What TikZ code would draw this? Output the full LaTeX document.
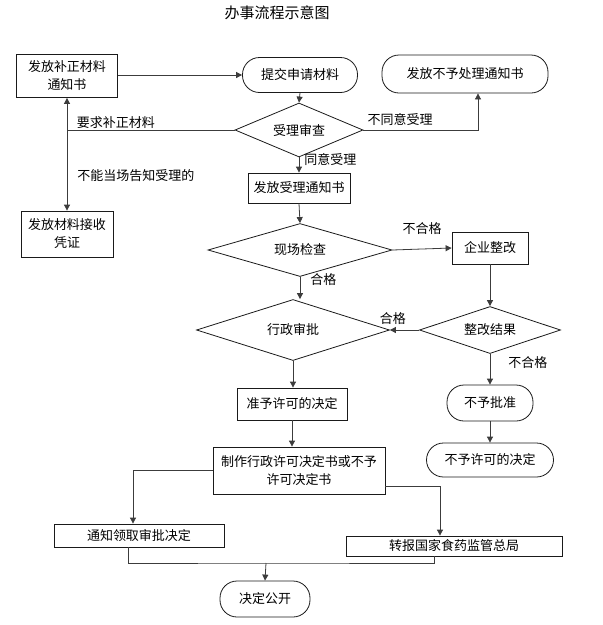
\documentclass[tikz,border=0pt]{standalone}
\usepackage{fontspec}
\setmainfont{Noto Sans CJK SC}
\usepackage{tikz}
\usetikzlibrary{shapes.geometric,arrows.meta,positioning}
\definecolor{flowdark}{HTML}{1A1A1A}
\definecolor{flowgray}{HTML}{3C3C3C}
\tikzset{
  flowbox/.style={
    draw=flowdark, fill=white, line width=0.8pt,
    align=center, inner sep=0pt, font=\fontsize{13}{18}\selectfont
  },
  flowterm/.style={flowbox, rounded corners=17pt},
  flowdec/.style={
    diamond, draw=flowdark, fill=white, line width=0.8pt,
    align=center, inner sep=0pt, font=\fontsize{13}{18}\selectfont
  },
  flowarr/.style={-{Triangle[length=6pt,width=6pt]}, draw=flowgray, line width=0.8pt},
  flowlink/.style={draw=flowgray, line width=0.8pt},
  flowlbl/.style={font=\fontsize{13}{16}\selectfont, inner sep=1pt}
}
\begin{document}
\begin{tikzpicture}[x=1pt, y=-1pt]
  \useasboundingbox[fill=white] (0,0) rectangle (603,625);

  \node[font=\fontsize{15}{18}\selectfont] (title) at (277,13) {办事流程示意图};

  %% ---- 受理 ----
  \node[flowbox, minimum width=101pt, minimum height=43pt] (bz) at (67,76) {发放补正材料\\通知书};
  \node[flowterm, minimum width=115pt, minimum height=35pt] (tj) at (300,75) {提交申请材料};
  \node[flowterm, minimum width=166pt, minimum height=38pt] (by) at (465,74) {发放不予处理通知书};
  \node[flowdec, minimum width=128pt, minimum height=54pt, aspect=2.4] (sl) at (299,130) {受理审查};
  \node[flowbox, minimum width=92pt, minimum height=46pt] (cl) at (67,234) {发放材料接收\\凭证};
  \node[flowbox, minimum width=102pt, minimum height=30pt] (sz) at (299,188) {发放受理通知书};

  %% ---- 检查 ----
  \node[flowdec, minimum width=184pt, minimum height=53pt, aspect=3.5] (xc) at (300,250) {现场检查};
  \node[flowbox, minimum width=76pt, minimum height=32pt] (qy) at (490,248) {企业整改};
  \node[flowdec, minimum width=141pt, minimum height=47pt, aspect=3] (zg) at (490,330) {整改结果};
  \node[flowdec, minimum width=193pt, minimum height=61pt, aspect=3.2] (xz) at (293,330) {行政审批};

  %% ---- 决定 ----
  \node[flowbox, minimum width=110pt, minimum height=32pt] (zy) at (292,404) {准予许可的决定};
  \node[flowbox, minimum width=172pt, minimum height=47pt] (zz) at (299,470.5) {制作行政许可决定书或不予\\许可决定书};
  \node[flowterm, minimum width=86pt, minimum height=36pt] (bp) at (490,403) {不予批准};
  \node[flowterm, minimum width=127pt, minimum height=34pt] (bx) at (490,460) {不予许可的决定};
  \node[flowbox, minimum width=170pt, minimum height=23pt] (tz) at (139,535.5) {通知领取审批决定};
  \node[flowbox, minimum width=216pt, minimum height=20pt] (zb) at (454,546) {转报国家食药监管总局};
  \node[flowterm, minimum width=90pt, minimum height=36pt] (jd) at (265,599) {决定公开};
  \coordinate (jn) at (266,563);

  %% Connectors
  \draw[flowarr] (tj.west -| bz.east) -- (tj.west);
  \draw[flowarr] (tj.south) -- (sl.north);
  \draw[flowarr] (sl.east) -| ([xshift=13pt]by.south)
    node[flowlbl, pos=0.16, above=3pt] {不同意受理};
  \draw[flowarr] (sl.west) -| (bz.south)
    node[flowlbl, pos=0.354, above] {要求补正材料};
  \draw[flowarr] (sl.west -| bz.south) -- (cl.north)
    node[flowlbl, pos=0.57, right=9pt] {不能当场告知受理的};
  \draw[flowarr] (sl.south) -- (sz.north)
    node[flowlbl, pos=0.15, right=4pt] {同意受理};
  \draw[flowarr] (sz.south) -- (xc.north);

  \draw[flowarr] (xc.east) -- (qy.west)
    node[flowlbl, midway, above=13pt] {不合格};
  \draw[flowarr] (xc.south) -- (xc.south |- xz.north)
    node[flowlbl, pos=0.1, right=9pt] {合格};
  \draw[flowarr] (qy.south) -- (zg.north);
  \draw[flowarr] (zg.west) -- (xz.east)
    node[flowlbl, pos=0.9, above=4pt] {合格};
  \draw[flowarr] (zg.south) -- (bp.north)
    node[flowlbl, pos=0.27, right=17pt] {不合格};
  \draw[flowarr] (bp.south) -- (bx.north);

  \draw[flowarr] (xz.south) -- (xz.south |- zy.north);
  \draw[flowarr] (zy.south) -- (zy.south |- zz.north);
  \draw[flowarr] (zz.west) -| ([xshift=-6pt]tz.north);
  \draw[flowarr] ([yshift=-16pt]zz.east) -| ([xshift=-14pt]zb.north);
  \draw[flowlink] ([xshift=-11pt]tz.south) |- (jn) -| ([xshift=-20pt]zb.south);
  \draw[flowarr] (jn) -- (jd.north);

\end{tikzpicture}
\end{document}
